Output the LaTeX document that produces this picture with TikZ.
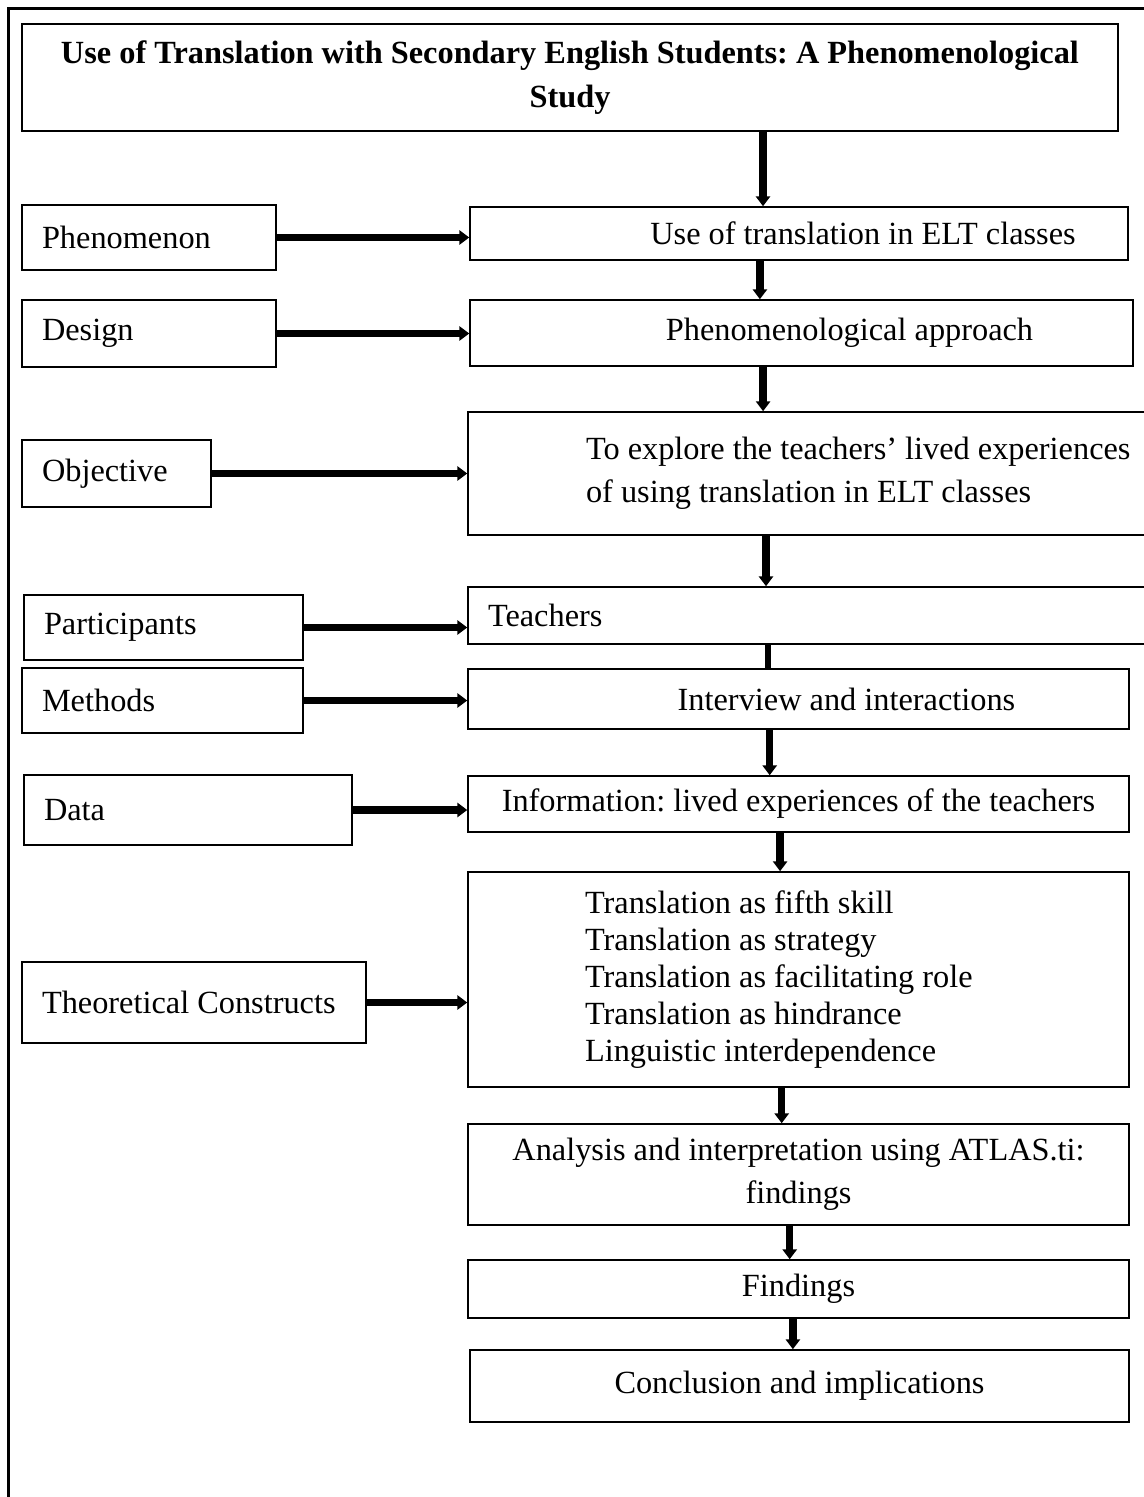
\documentclass[tikz,border=0pt]{standalone}
\usepackage{fontspec}
\setmainfont{Liberation Serif}
\usepackage{tikz}
\usetikzlibrary{arrows.meta}
\frenchspacing

\begin{document}
\begin{tikzpicture}[
  font=\fontsize{11.5}{15.4}\selectfont,
  box/.style={draw, line width=0.55pt, align=center, inner ysep=0pt},
  side/.style={box, align=flush left, text width=#1, inner xsep=2.5mm},
  list/.style={box, align=flush left, font=\fontsize{11.5}{13.1}\selectfont},
  ar/.style={-{Triangle[length=3.5pt,width=5pt]}, line width=2.6pt},
  link/.style={line width=2.4pt},
]
\useasboundingbox (0,0) rectangle (14.2875,-18.7125);
% --- page frame (runs off the page on the right and below) ---
\draw[line width=1.1pt] (0.10625,-19) -- (0.10625,-0.10625) -- (14.5,-0.10625);

% --- title ------------------------------------------------------------
\node[box, font=\fontsize{11.5}{15.4}\selectfont\bfseries,
      minimum width=13.7cm, minimum height=13.375mm] (title) at (7.125,-0.96875)
     {Use of Translation with Secondary English Students: A Phenomenological\\Study};

% --- left column: what each step is -------------------------------------
\node[side=2.675cm, minimum height=8.125mm] (phen) at (1.8625,-2.96875) {Phenomenon};
\node[side=2.675cm, minimum height=8.375mm] (design) at (1.8625,-4.16875) {Design};
\node[side=1.8625cm, minimum height=8.375mm] (obj) at (1.45625,-5.91875) {Objective};
\node[side=2.9875cm, minimum height=8.125mm] (part) at (2.04375,-7.84375) {Participants};
\node[side=3.0125cm, minimum height=8.125mm] (methods) at (2.03125,-8.75625) {Methods};
\node[side=3.6cm, minimum height=8.75mm] (data) at (2.35,-10.125) {Data};
\node[side=3.8cm, minimum height=10.125mm] (theo) at (2.425,-12.53125) {Theoretical Constructs};

% --- right column: the study itself -------------------------------------
\node[box, minimum width=8.225cm, minimum height=6.625mm] (use) at (9.9875,-2.91875)
     {\hspace*{16mm}Use of translation in ELT classes};
\node[box, minimum width=8.2875cm, minimum height=8.25mm] (appr) at (10.01875,-4.1625)
     {\hspace*{12mm}Phenomenological approach};
\node[box, align=flush left, text width=7.5cm, inner xsep=14.75mm, minimum height=15.375mm] (aim)
     at (11.075,-5.91875)
     {To explore the teachers’ lived experiences\\of using translation in ELT classes};
\node[box, align=flush left, text width=9cm, inner xsep=2.5mm, minimum height=7.125mm] (teach)
     at (10.6,-7.69375) {Teachers};
\node[box, minimum width=8.2625cm, minimum height=7.5mm] (inter) at (9.98125,-8.7375)
     {\hspace*{12mm}Interview and interactions};
\node[box, minimum width=8.2625cm, minimum height=7mm] (info) at (9.98125,-10.05)
     {Information: lived experiences of the teachers};
\node[list, text width=5.3375cm, inner xsep=14.625mm, minimum height=26.875mm] (cons)
     at (9.98125,-12.24375)
     {Translation as fifth skill\\Translation as strategy\\Translation as facilitating role\\
      Translation as hindrance\\Linguistic interdependence};
\node[box, minimum width=8.2625cm, minimum height=12.625mm] (anal) at (9.98125,-14.68125)
     {Analysis and interpretation using ATLAS.ti:\\findings};
\node[box, minimum width=8.2625cm, minimum height=7.25mm] (find) at (9.98125,-16.1125) {Findings};
\node[box, minimum width=8.2375cm, minimum height=9mm] (concl) at (9.99375,-17.325)
     {Conclusion and implications};

% --- main chain, top to bottom ----------------------------------------
\draw[ar] ([xshift=-4.5mm]use.north |- title.south) -- ([xshift=-4.5mm]use.north);
\draw[ar] ([xshift=-5.2mm]appr.north |- use.south) -- ([xshift=-5.2mm]appr.north);
\draw[ar] ([xshift=-4.8mm]appr.south) -- ([xshift=-4.8mm]appr.south |- aim.north);
\draw[ar] ([xshift=-15mm]aim.south) -- ([xshift=-15mm]aim.south |- teach.north);
\draw[link] ([xshift=-10mm]teach.south) -- ([xshift=-10mm]teach.south |- inter.north);
\draw[ar] ([xshift=-3.6mm]inter.south) -- ([xshift=-3.6mm]inter.south |- info.north);
\draw[ar] ([xshift=-2.3mm]info.south) -- ([xshift=-2.3mm]info.south |- cons.north);
\draw[ar] ([xshift=-2.1mm]cons.south) -- ([xshift=-2.1mm]cons.south |- anal.north);
\draw[ar] ([xshift=-1.1mm]anal.south) -- ([xshift=-1.1mm]anal.south |- find.north);
\draw[ar] ([xshift=-0.7mm]find.south) -- ([xshift=-0.7mm]find.south |- concl.north);

% --- left labels point across ------------------------------------------
\draw[ar] (phen.east) -- (phen.east -| use.west);
\draw[ar] (design.east) -- (design.east -| appr.west);
\draw[ar] (obj.east) -- (obj.east -| aim.west);
\draw[ar] (part.east) -- (part.east -| teach.west);
\draw[ar] (methods.east) -- (methods.east -| inter.west);
\draw[ar] (data.east) -- (data.east -| info.west);
\draw[ar] (theo.east) -- (theo.east -| cons.west);
\end{tikzpicture}
\end{document}
